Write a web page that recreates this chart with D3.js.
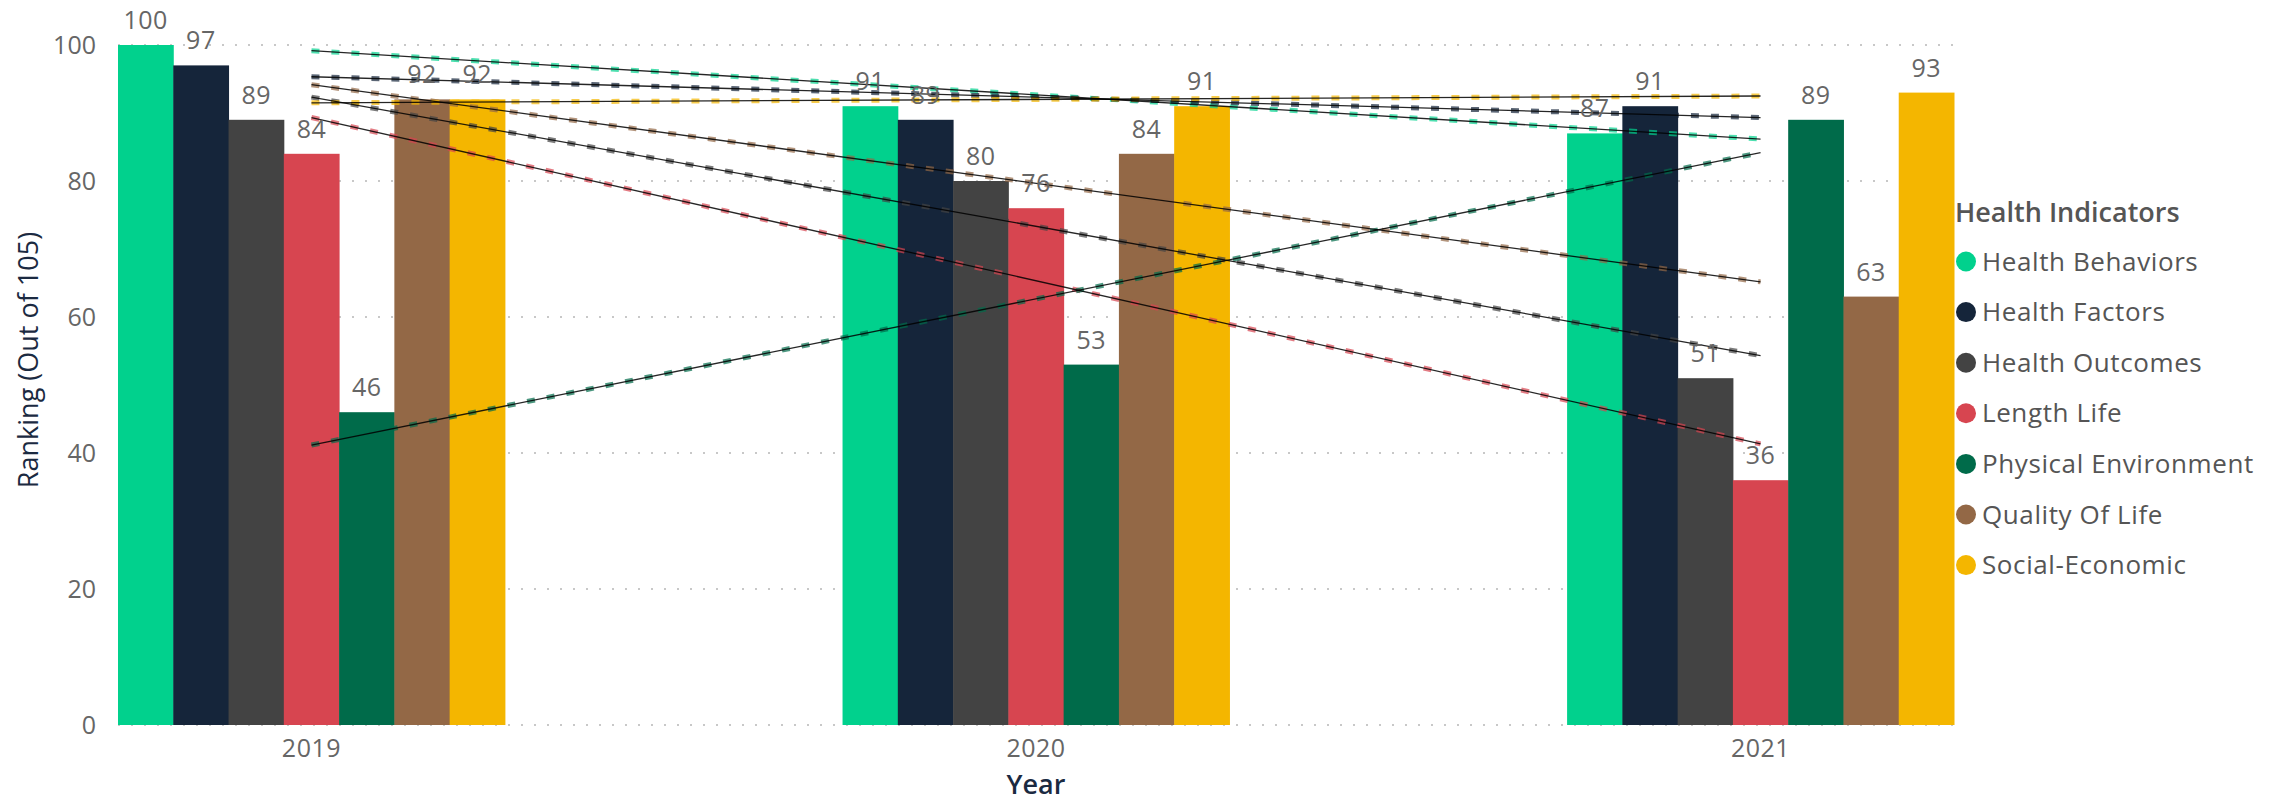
<!DOCTYPE html>
<html>
<head>
<meta charset="utf-8">
<script src="https://cdn.jsdelivr.net/npm/d3@7"></script>
<style>
  html, body { margin: 0; padding: 0; background: #fff; }
  svg { display: block; }
  text { font-family: "Open Sans", "Noto Sans", sans-serif; }
</style>
</head>
<body>
<svg id="chart" width="2284" height="803"></svg>
<script>
const years = ["2019", "2020", "2021"];
const series = ["Health Behaviors", "Health Factors", "Health Outcomes", "Length Life", "Physical Environment", "Quality Of Life", "Social-Economic"];
const colors = ["#01D18D", "#15253A", "#434343", "#D74550", "#006B4A", "#936846", "#F4B600"];
const healthBehaviors = [100, 91, 87];
const healthFactors = [97, 89, 91];
const healthOutcomes = [89, 80, 51];
const lengthLife = [84, 76, 36];
const physicalEnvironment = [46, 53, 89];
const qualityOfLife = [92, 84, 63];
const socialEconomic = [92, 91, 93];
const yTicks = [0, 20, 40, 60, 80, 100];
const yTitle = "Ranking (Out of 105)";
const xTitle = "Year";
const legendTitle = "Health Indicators";

const values = [healthBehaviors, healthFactors, healthOutcomes, lengthLife, physicalEnvironment, qualityOfLife, socialEconomic];

const svg = d3.select("#chart");
const x0 = d3.scaleBand().domain(years).range([118, 1954]).paddingInner(0.466).paddingOuter(0);
const x1 = d3.scaleBand().domain(series).range([0, x0.bandwidth()]).padding(0);
const y = d3.scaleLinear().domain([0, 100]).range([725, 45]);
const color = d3.scaleOrdinal().domain(series).range(colors);

// gridlines (dotted)
svg.append("g").selectAll("line").data(yTicks).join("line")
  .attr("x1", 118).attr("x2", 1954)
  .attr("y1", d => y(d)).attr("y2", d => y(d))
  .attr("stroke", "#c8c8c8").attr("stroke-width", 2)
  .attr("stroke-dasharray", "2,11");

// y axis
const yAxis = svg.append("g").attr("transform", "translate(118,0)")
  .call(d3.axisLeft(y).tickValues(yTicks).tickSize(0).tickPadding(22));
yAxis.select(".domain").remove();
yAxis.selectAll("text").attr("fill", "#666").style("font-size", "25px");

// x axis
const xAxis = svg.append("g").attr("transform", "translate(0,725)")
  .call(d3.axisBottom(x0).tickSize(0).tickPadding(14));
xAxis.select(".domain").remove();
xAxis.selectAll("text").attr("fill", "#666").style("font-size", "25px").style("letter-spacing", "0.5px");

// axis titles
svg.append("text").attr("transform", "translate(38,360) rotate(-90)")
  .attr("text-anchor", "middle").attr("fill", "#1B2A41")
  .style("font-size", "27px").text(yTitle);
svg.append("text").attr("x", x0("2020") + x0.bandwidth() / 2).attr("y", 794)
  .attr("text-anchor", "middle").attr("fill", "#1B2A41")
  .style("font-size", "27px").style("font-weight", 600).text(xTitle);

// bars
const rows = [];
years.forEach((yr, i) => series.forEach((s, j) => rows.push({ year: yr, s, v: values[j][i] })));

svg.append("g").selectAll("rect").data(rows).join("rect")
  .attr("x", d => x0(d.year) + x1(d.s))
  .attr("y", d => y(d.v))
  .attr("width", x1.bandwidth() + 0.5)
  .attr("height", d => y(0) - y(d.v))
  .attr("fill", d => color(d.s));

// trend lines (linear regression over the years)
const xi = [0, 1, 2];
const trend = series.map((s, j) => {
  const vs = values[j];
  const mx = d3.mean(xi), my = d3.mean(vs);
  const b = d3.sum(xi, (t, k) => (t - mx) * (vs[k] - my)) / d3.sum(xi, t => (t - mx) ** 2);
  const a = my - b * mx;
  return { s, p0: a, p2: a + 2 * b };
});
const cx = yr => x0(yr) + x0.bandwidth() / 2;
const tg = svg.append("g");
tg.selectAll("line.dash").data(trend).join("line").attr("class", "dash")
  .attr("x1", cx("2019")).attr("x2", cx("2021"))
  .attr("y1", d => y(d.p0)).attr("y2", d => y(d.p2))
  .attr("stroke", d => color(d.s)).attr("stroke-opacity", 0.7)
  .attr("stroke-width", 5).attr("stroke-dasharray", "8,12");
tg.selectAll("line.solid").data(trend).join("line").attr("class", "solid")
  .attr("x1", cx("2019")).attr("x2", cx("2021"))
  .attr("y1", d => y(d.p0)).attr("y2", d => y(d.p2))
  .attr("stroke", "#000").attr("stroke-opacity", 0.85).attr("stroke-width", 1.3);

// data labels
svg.append("g").selectAll("text").data(rows).join("text")
  .attr("x", d => x0(d.year) + x1(d.s) + x1.bandwidth() / 2)
  .attr("y", d => y(d.v) - 16)
  .attr("text-anchor", "middle").attr("fill", "#666")
  .style("font-size", "25px").style("letter-spacing", "0.5px").text(d => d.v);

// legend
const lg = svg.append("g");
lg.append("text").attr("x", 1955).attr("y", 222).attr("fill", "#555")
  .style("font-size", "27px").style("font-weight", 600).text(legendTitle);
const items = lg.selectAll("g.item").data(series).join("g").attr("class", "item")
  .attr("transform", (d, i) => `translate(1966,${261.5 + i * 50.6})`);
items.append("circle").attr("r", 10).attr("fill", d => color(d));
items.append("text").attr("x", 16).attr("y", 9).attr("fill", "#555")
  .style("font-size", "26px").style("letter-spacing", "0.6px").text(d => d);
</script>
</body>
</html>
